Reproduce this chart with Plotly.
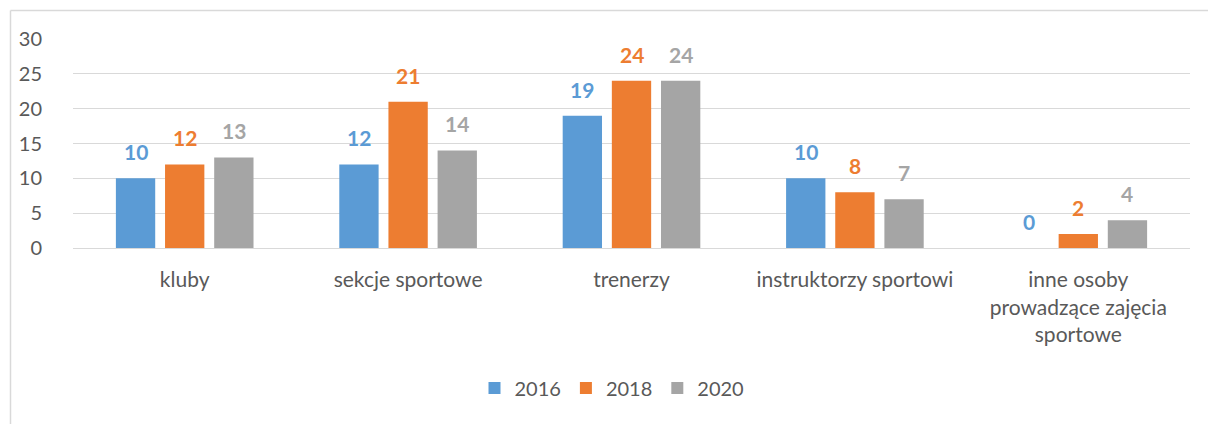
import plotly.graph_objects as go

categories = ["kluby", "sekcje sportowe", "trenerzy", "instruktorzy sportowi",
              "inne osoby<br>prowadzące zajęcia<br>sportowe"]
years = ["2016", "2018", "2020"]
values_2016 = [10, 12, 19, 10, 0]
values_2018 = [12, 21, 24, 8, 2]
values_2020 = [13, 14, 24, 7, 4]
colors = ["#5B9BD5", "#ED7D31", "#A5A5A5"]
y_ticks = [0, 5, 10, 15, 20, 25, 30]

series = [values_2016, values_2018, values_2020]
FONT = "Lato"

W, H = 1208, 424
ML, MR, MT, MB = 73, 18, 39, 176
plot_w = W - ML - MR
plot_h = H - MT - MB

fig = go.Figure()
for name, vals, col in zip(years, series, colors):
    fig.add_trace(go.Bar(x=categories, y=vals, name=name, marker_color=col,
                         marker_line_width=0))

# value labels above each bar
slot_px = plot_w / len(categories) * 0.66 / 3
annotations = []
for j, (vals, col) in enumerate(zip(series, colors)):
    for cat, v in zip(categories, vals):
        annotations.append(dict(
            x=cat, y=v, xref="x", yref="y", text=f"<b>{v}</b>",
            showarrow=False, yanchor="bottom", xanchor="center",
            xshift=(j - 1) * slot_px, yshift=12,
            font=dict(family=FONT, size=21, color=col)))

def px_to_paper_x(px):
    return (px - ML) / plot_w

def px_to_paper_y(py):
    return (H - MB - py) / plot_h

# outer chart frame: left and top edges
frame_line = dict(color="#D9D9D9", width=1.5)
shapes = [
    dict(type="line", xref="paper", yref="paper", line=frame_line,
         x0=px_to_paper_x(10.5), x1=px_to_paper_x(10.5),
         y0=px_to_paper_y(10.5), y1=px_to_paper_y(H + 10)),
    dict(type="line", xref="paper", yref="paper", line=frame_line,
         x0=px_to_paper_x(10.5), x1=px_to_paper_x(W + 10),
         y0=px_to_paper_y(10.5), y1=px_to_paper_y(10.5)),
]

fig.update_layout(
    width=W, height=H,
    margin=dict(l=ML, r=MR, t=MT, b=MB, pad=0),
    paper_bgcolor="white", plot_bgcolor="white",
    barmode="group", bargap=0.34, bargroupgap=0.2,
    font=dict(family=FONT, size=20, color="#595959"),
    showlegend=True,
    legend=dict(orientation="h", x=px_to_paper_x(612), xanchor="center",
                y=px_to_paper_y(388), yanchor="middle",
                font=dict(family=FONT, size=20, color="#595959"),
                itemwidth=30, traceorder="normal"),
    annotations=annotations,
    shapes=shapes,
    xaxis=dict(showgrid=False, showline=False, ticks="outside", ticklen=13,
               tickcolor="rgba(0,0,0,0)", tickfont=dict(size=21, color="#595959"),
               fixedrange=True),
    yaxis=dict(range=[0, 30], tickvals=y_ticks, showgrid=True,
               gridcolor="#D9D9D9", gridwidth=1, zeroline=True,
               zerolinecolor="#D9D9D9", zerolinewidth=1, showline=False,
               ticks="outside", ticklen=26, tickcolor="rgba(0,0,0,0)",
               tickfont=dict(size=20, color="#595959"), fixedrange=True),
)

fig.write_html("out.html", config={"displayModeBar": False})
